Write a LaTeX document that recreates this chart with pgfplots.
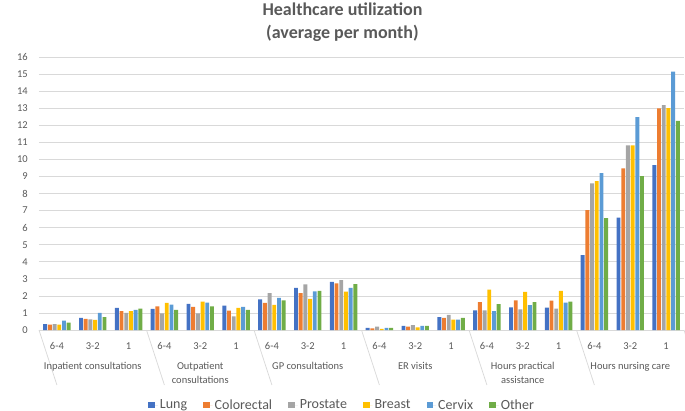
\documentclass[border=0pt]{standalone}
\usepackage{pgfplots}
\pgfplotsset{compat=1.18}
\usepackage{pgfplotstable}
\usepackage{fontspec}
\setmainfont{Carlito}
\definecolor{cLung}{HTML}{4472C4}
\definecolor{cColo}{HTML}{ED7D31}
\definecolor{cPros}{HTML}{A5A5A5}
\definecolor{cBreast}{HTML}{FFC000}
\definecolor{cCervix}{HTML}{5B9BD5}
\definecolor{cOther}{HTML}{70AD47}
\definecolor{txt}{HTML}{595959}
\definecolor{gridc}{HTML}{D9D9D9}

\pgfplotstableread{
x lung colo pros breast cervix other
0 0.35 0.31 0.35 0.31 0.55 0.43
1 0.71 0.65 0.63 0.59 1.00 0.76
2 1.29 1.10 1.00 1.10 1.18 1.25
3 1.24 1.39 0.98 1.59 1.49 1.18
4 1.53 1.35 0.98 1.67 1.61 1.39
5 1.43 1.14 0.80 1.29 1.35 1.18
6 1.80 1.59 2.16 1.47 1.88 1.73
7 2.47 2.16 2.67 1.82 2.27 2.29
8 2.82 2.73 2.92 2.25 2.47 2.69
9 0.12 0.10 0.20 0.06 0.12 0.12
10 0.24 0.20 0.29 0.16 0.24 0.24
11 0.76 0.71 0.88 0.61 0.61 0.71
12 1.15 1.64 1.15 2.36 1.11 1.52
13 1.33 1.74 1.21 2.23 1.46 1.64
14 1.31 1.72 1.25 2.30 1.60 1.66
15 4.39 7.03 8.59 8.73 9.20 6.56
16 6.58 9.47 10.82 10.82 12.48 9.02
17 9.67 12.99 13.18 13.01 15.14 12.25
}\data

\newcommand{\ticksz}{\fontsize{10.5bp}{13.7bp}\selectfont}

\begin{document}
\begin{tikzpicture}
\useasboundingbox (-39bp,-81bp) rectangle (646bp,330bp);
\begin{axis}[
  at={(0,0)}, anchor=south west,
  x=35.833bp, y=17.0625bp,
  xmin=-0.5, xmax=17.5, ymin=0, ymax=16,
  clip=false,
  ybar=0.8bp, bar width=3.9bp,
  axis x line*=bottom, axis y line*=left,
  x axis line style={draw=gridc, line width=0.75bp, -},
  y axis line style={draw=none},
  ytick={0,1,...,16},
  ymajorgrids, grid style={draw=gridc, line width=0.75bp},
  ytick style={draw=none}, xtick style={draw=none},
  xtick={0,...,17},
  xticklabels={6-4,3-2,1,6-4,3-2,1,6-4,3-2,1,6-4,3-2,1,6-4,3-2,1,6-4,3-2,1},
  /pgf/number format/assume math mode=true,
  yticklabel style={font=\ticksz, text=txt, anchor=east, inner sep=0pt, xshift=-11bp},
  xticklabel style={font=\ticksz, text=txt, anchor=center, inner sep=0pt, yshift=-12bp},
  legend style={at={(0.47,-0.275)}, anchor=center, draw=none, fill=none,
    font=\fontsize{14bp}{16bp}\selectfont, text=txt,
    /tikz/every even column/.append style={column sep=14bp}},
  legend columns=6,
  legend image code/.code={\fill[#1] (0bp,-3.3bp) rectangle (6.6bp,3.3bp); \path (0bp,0bp) -- (9.6bp,0bp);},
]
\addplot[fill=cLung, draw=none] table[x=x, y=lung] {\data};
\addplot[fill=cColo, draw=none] table[x=x, y=colo] {\data};
\addplot[fill=cPros, draw=none] table[x=x, y=pros] {\data};
\addplot[fill=cBreast, draw=none] table[x=x, y=breast] {\data};
\addplot[fill=cCervix, draw=none] table[x=x, y=cervix] {\data};
\addplot[fill=cOther, draw=none] table[x=x, y=other] {\data};
\legend{Lung, Colorectal, Prostate, Breast, Cervix, Other}

\draw[gridc, line width=0.75bp] (axis cs:-0.5,0) -- ++(0,-55bp);
\draw[gridc, line width=0.75bp] (axis cs:2.5,0) -- ++(0,-55bp);
\draw[gridc, line width=0.75bp] (axis cs:5.5,0) -- ++(0,-55bp);
\draw[gridc, line width=0.75bp] (axis cs:8.5,0) -- ++(0,-55bp);
\draw[gridc, line width=0.75bp] (axis cs:11.5,0) -- ++(0,-55bp);
\draw[gridc, line width=0.75bp] (axis cs:14.5,0) -- ++(0,-55bp);
\draw[gridc, line width=0.75bp] (axis cs:17.5,0) -- ++(0,-55bp);
\node[font=\ticksz, text=txt, align=center, anchor=north, inner sep=0pt, yshift=-32.5bp] at (axis cs:1,0) {Inpatient consultations};
\node[font=\ticksz, text=txt, align=center, anchor=north, inner sep=0pt, yshift=-32.5bp] at (axis cs:4,0) {Outpatient\\consultations};
\node[font=\ticksz, text=txt, align=center, anchor=north, inner sep=0pt, yshift=-32.5bp] at (axis cs:7,0) {GP consultations};
\node[font=\ticksz, text=txt, align=center, anchor=north, inner sep=0pt, yshift=-32.5bp] at (axis cs:10,0) {ER visits};
\node[font=\ticksz, text=txt, align=center, anchor=north, inner sep=0pt, yshift=-32.5bp] at (axis cs:13,0) {Hours practical\\assistance};
\node[font=\ticksz, text=txt, align=center, anchor=north, inner sep=0pt, yshift=-32.5bp] at (axis cs:16,0) {Hours nursing care};
\node[font=\bfseries\fontsize{18bp}{22bp}\selectfont, text=txt, yshift=48bp] at (rel axis cs:0.4705,1) {Healthcare utilization};
\node[font=\bfseries\fontsize{18bp}{22bp}\selectfont, text=txt, yshift=24bp] at (rel axis cs:0.4705,1) {(average per month)};
\node[font=\fontsize{13.5bp}{16bp}\selectfont, text=txt, rotate=90, xshift=-32bp, yshift=145bp] at (rel axis cs:0,0) {Number of consultations/ visits/ hours};
\end{axis}
\end{tikzpicture}
\end{document}
